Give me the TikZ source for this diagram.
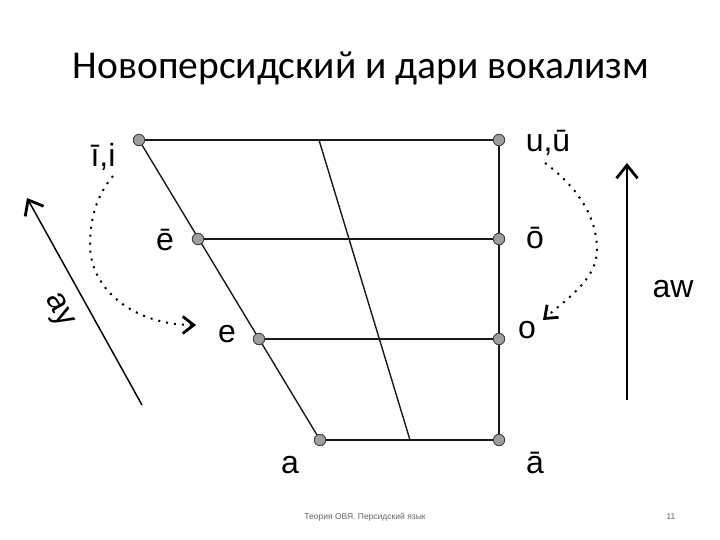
\documentclass[tikz,border=0pt]{standalone}
\usepackage{fontspec}
\setmainfont{Liberation Sans}
\newfontfamily\titlefont{Carlito}
\usetikzlibrary{arrows.meta}
\begin{document}
\begin{tikzpicture}[x=1pt,y=-1pt,
  vdot/.style={circle,draw=black!75,fill=black!38,line width=0.9pt,inner sep=0pt,minimum size=11.5pt},
  edge/.style={line width=1.4pt,draw=black!90},
  lbl/.style={font=\fontsize{32}{36}\selectfont,inner sep=0pt,anchor=base},
  dotted curve/.style={line width=2pt,dash pattern=on 2pt off 6pt,-{Straight Barb[length=11pt,width=17pt,line width=2.8pt]}},
  dirarrow/.style={line width=1.5pt,-{Straight Barb[length=13pt,width=21pt,line width=2.8pt]}},
  foot/.style={font=\fontsize{8.5}{10}\selectfont,text=black!60,inner sep=0pt,anchor=base}]
\useasboundingbox (0,0) rectangle (720,540);
\fill[white] (0,0) rectangle (720,540);
% title
\node[font=\titlefont\fontsize{39.5}{44}\selectfont,anchor=base,inner sep=0pt] (title) at (361,79) {Новоперсидский и дари вокализм};
% coordinates of vowels
\coordinate (iL) at (139,140);
\coordinate (uR) at (499,140);
\coordinate (eeL) at (198,239);
\coordinate (ooR) at (499,239);
\coordinate (eL) at (259,339);
\coordinate (oR) at (499,339);
\coordinate (aL) at (320,440);
\coordinate (aaR) at (499,440);
\coordinate (mT) at (319,140);
\coordinate (mB) at (410,440);
% lines
\draw[edge] (iL) -- (uR);
\draw[edge] (eeL) -- (ooR);
\draw[edge] (eL) -- (oR);
\draw[edge] (aL) -- (aaR);
\draw[edge] (iL) -- (aL);
\draw[edge] (uR) -- (aaR);
\draw[edge] (mT) -- (mB);
% dots
\foreach \p in {iL,uR,eeL,ooR,eL,oR,aL,aaR} \node[vdot] (d\p) at (\p) {};
% labels
\node[lbl] (li) at (103,167) {ī,i};
\node[lbl] (lee) at (165,250) {ē};
\node[lbl] (le) at (227,342) {e};
\node[lbl] (la) at (290,473) {a};
\node[lbl] (lu) at (548,152) {u,ū};
\node[lbl] (loo) at (535,248) {ō};
\node[lbl] (lo) at (527,338) {o};
\node[lbl] (laa) at (535,473) {ā};
% dotted curves
\coordinate (c1s) at (113,176);
\coordinate (c1m) at (90,245);
\coordinate (c1e) at (196,325);
\draw[dotted curve] (c1s) .. controls (96,196) and (90,220) .. (c1m)
   .. controls (90,290) and (135,325) .. (c1e);
\coordinate (c2s) at (545,163);
\coordinate (c2m) at (597,250);
\coordinate (c2e) at (543,320);
\draw[dotted curve] (c2s) .. controls (575,185) and (597,215) .. (c2m)
   .. controls (597,280) and (565,300) .. (c2e);
% direction arrows
\coordinate (ayS) at (142,405);
\coordinate (ayE) at (27,198);
\draw[dirarrow] (ayS) -- (ayE);
\node[lbl,anchor=center,rotate=-61] (lay) at (58,311) {ay};
\coordinate (awS) at (627,400);
\coordinate (awE) at (627,163);
\draw[dirarrow] (awS) -- (awE);
\node[lbl] (law) at (673,297) {aw};
% footer
\node[foot] (ft) at (365,519) {Теория ОВЯ. Персидский язык};
\node[foot] (pg) at (671,519) {11};
\end{tikzpicture}
\end{document}
